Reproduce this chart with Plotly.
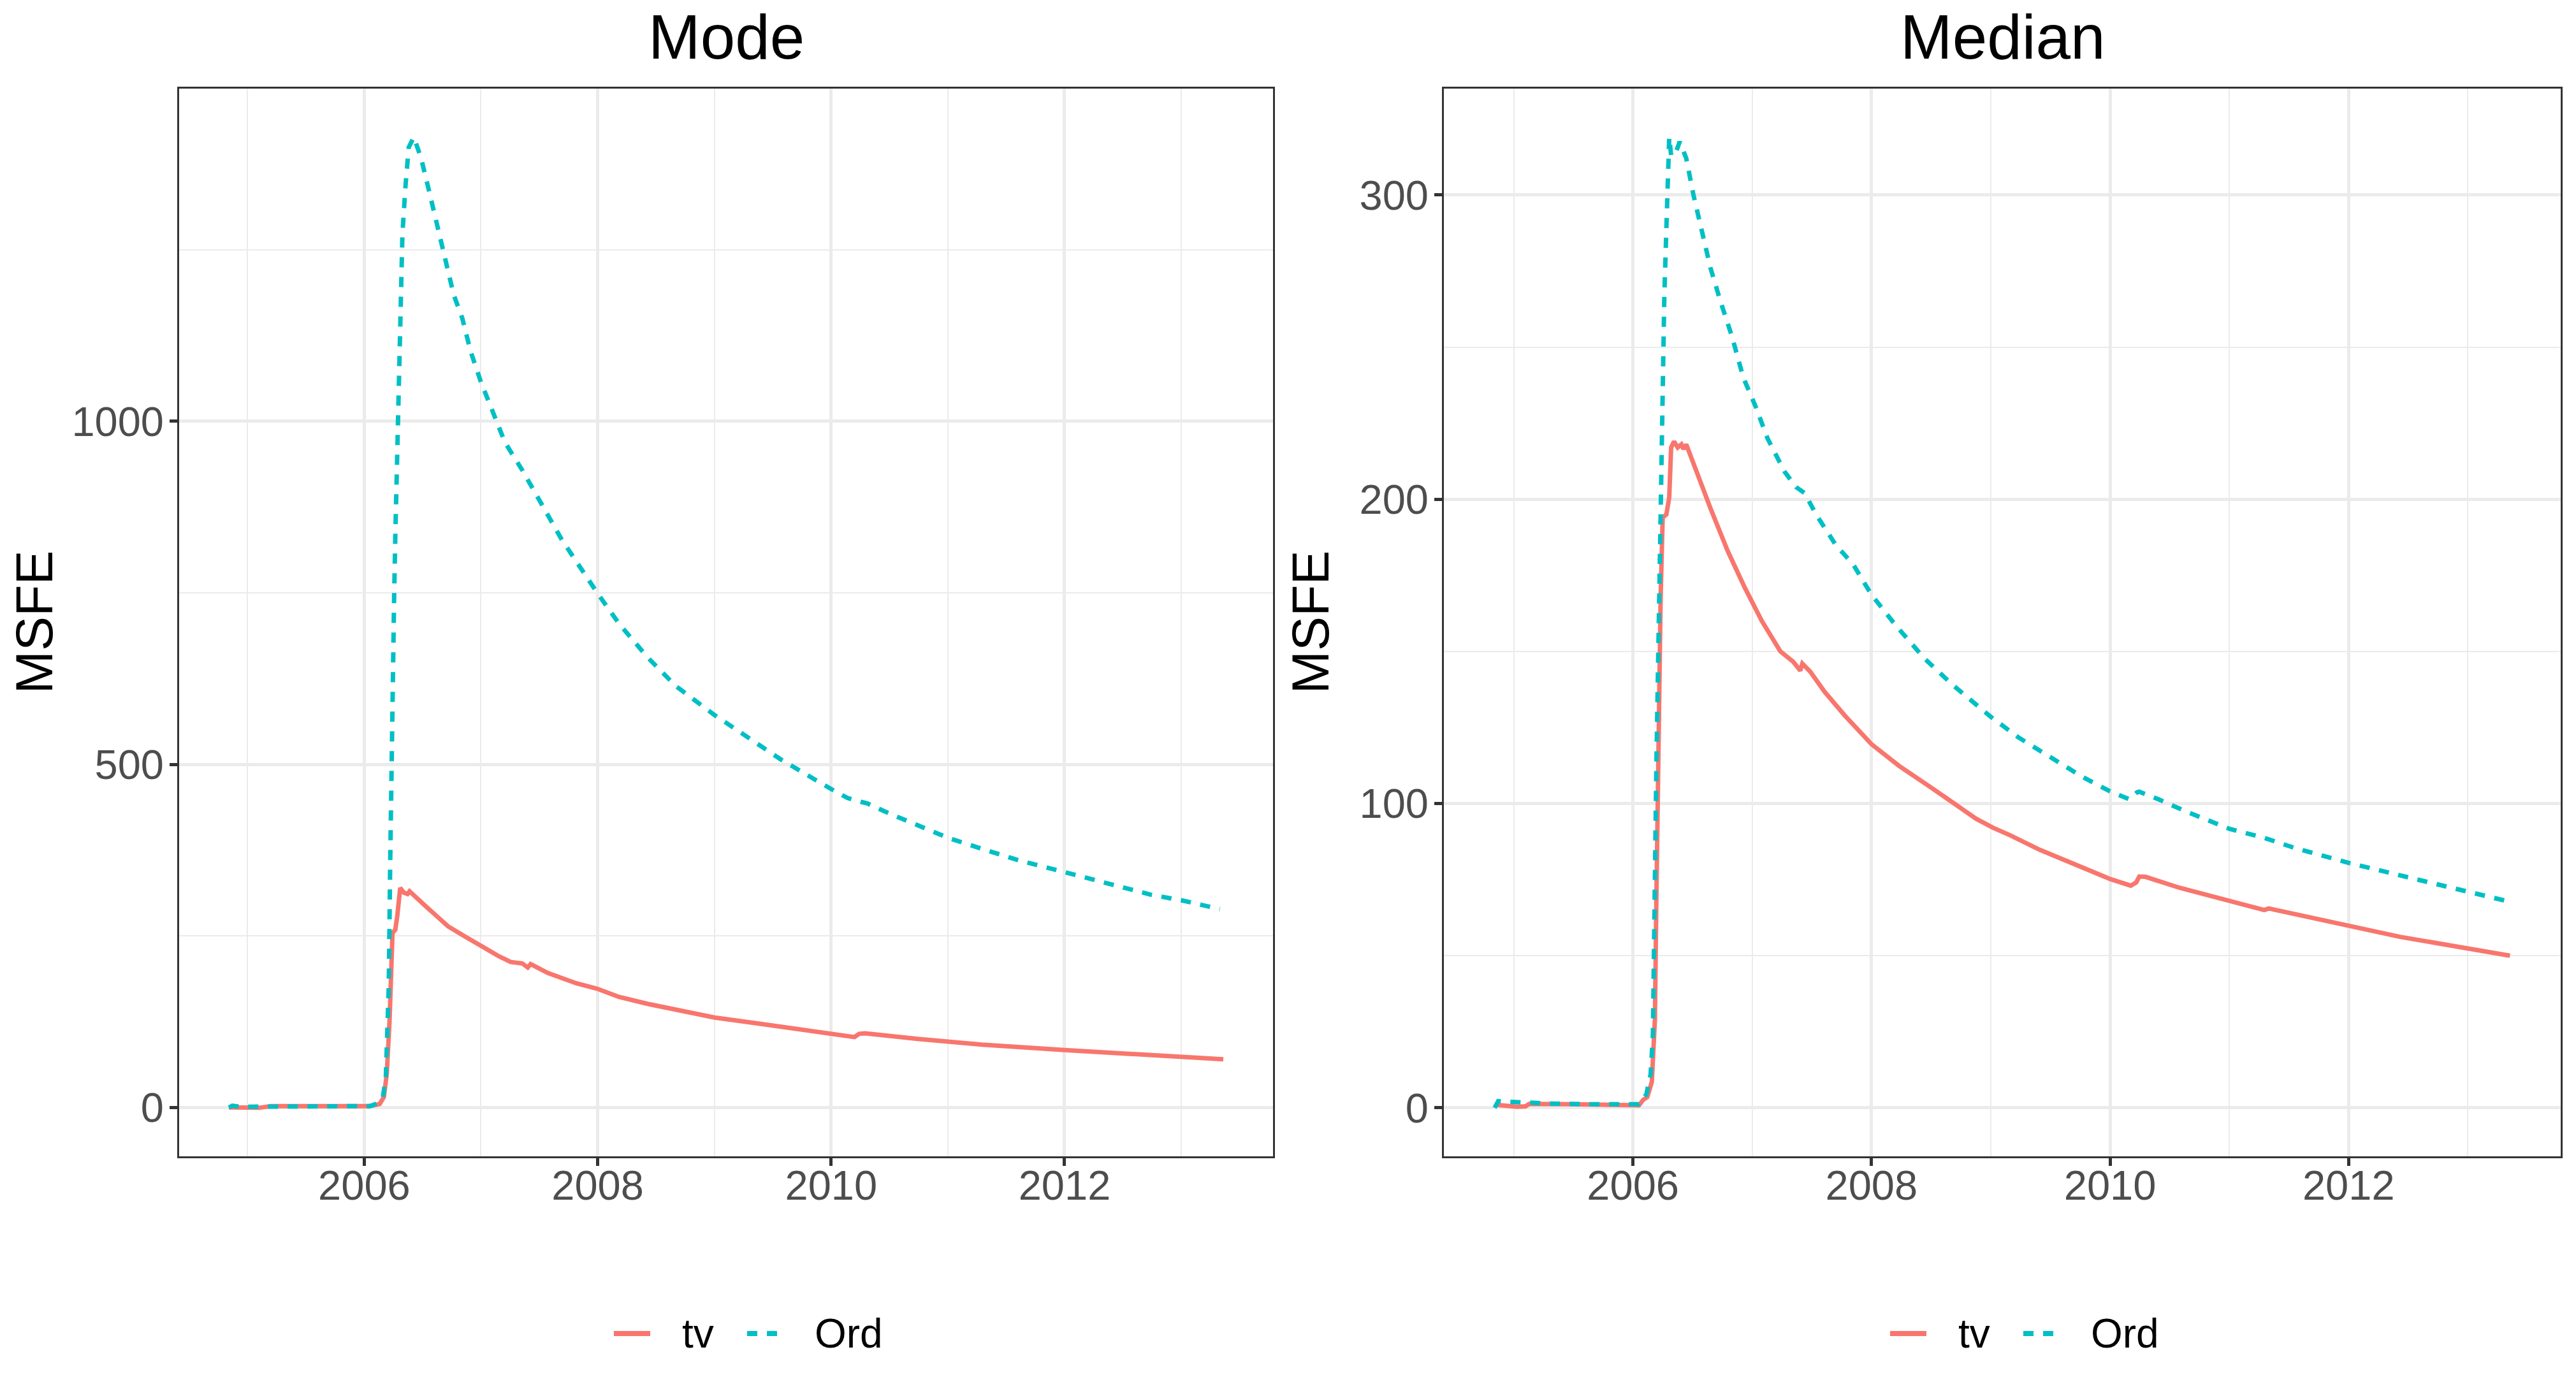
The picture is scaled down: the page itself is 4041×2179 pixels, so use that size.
import plotly.graph_objects as go

# decimal years and MSFE values
mode_tv_t = [2004.84, 2004.95, 2005.1, 2005.2, 2005.6, 2006.05, 2006.132, 2006.168,
             2006.193, 2006.217, 2006.242, 2006.266, 2006.283, 2006.298, 2006.308,
             2006.339, 2006.371, 2006.388, 2006.437, 2006.522, 2006.62, 2006.718,
             2006.864, 2007.0, 2007.157, 2007.255, 2007.353, 2007.401, 2007.426,
             2007.572, 2007.816, 2007.995, 2008.183, 2008.427, 2008.67, 2009.0,
             2009.35, 2010.0, 2010.2, 2010.24, 2010.29, 2010.74, 2011.29, 2012.0,
             2012.74, 2013.0, 2013.36]
mode_tv = [0, 0, -0.5, 2, 2, 2, 5, 15,
           49, 127, 254, 259, 279, 313, 320,
           313, 311, 315, 308, 294, 279, 264,
           249, 235, 220, 212, 210, 204, 209,
           196, 181, 173, 161, 151, 142, 131,
           123, 108, 102.6, 107.3, 108, 100, 91.6, 83.6,
           76, 73.6, 70.3]

mode_ord_t = [2004.84, 2004.87, 2004.93, 2005.0, 2005.2, 2005.5, 2005.8, 2006.05,
              2006.11, 2006.16, 2006.185, 2006.198, 2006.21, 2006.222, 2006.232,
              2006.245, 2006.256, 2006.266, 2006.278, 2006.291, 2006.303, 2006.327,
              2006.352, 2006.381, 2006.425, 2006.486, 2006.535, 2006.608, 2006.693,
              2006.767, 2006.84, 2006.913, 2007.0, 2007.108, 2007.206, 2007.353,
              2007.45, 2007.694, 2008.0, 2008.183, 2008.427, 2008.67, 2009.0,
              2009.21, 2009.57, 2010.0, 2010.14, 2010.24, 2010.31, 2010.49, 2010.74,
              2011.0, 2011.29, 2011.59, 2012.0, 2012.37, 2012.74, 2013.0, 2013.33]
mode_ord = [0, 2.5, 1, 1, 2, 2, 2, 2,
            5.6, 15, 45, 100, 176, 352, 499,
            597, 744, 832, 920, 1037, 1135, 1272,
            1340, 1399, 1414, 1384, 1350, 1296, 1238,
            1184, 1150, 1101, 1057, 1013, 969, 929,
            900, 827, 749, 705, 656, 614, 572,
            548, 507, 464, 451, 446, 443, 429, 411,
            393, 377, 361, 343, 327, 310, 302, 289]

median_tv_t = [2004.84, 2004.9, 2005.03, 2005.1, 2005.13, 2005.5, 2006.05, 2006.086,
               2006.12, 2006.158, 2006.184, 2006.196, 2006.215, 2006.232, 2006.249,
               2006.28, 2006.304, 2006.32, 2006.344, 2006.375, 2006.406, 2006.423,
               2006.447, 2006.507, 2006.65, 2006.794, 2006.937, 2007.08, 2007.236,
               2007.343, 2007.403, 2007.42, 2007.487, 2007.607, 2007.774, 2008.0,
               2008.23, 2008.487, 2008.7, 2008.877, 2009.02, 2009.16, 2009.41,
               2009.695, 2010.0, 2010.174, 2010.22, 2010.245, 2010.298, 2010.583,
               2011.0, 2011.293, 2011.33, 2011.65, 2012.0, 2012.43, 2012.785,
               2013.0, 2013.353]
median_tv = [1.0, 0.8, 0.35, 0.5, 1.3, 1.2, 0.8, 2.6,
             3.5, 8.5, 29, 68, 123, 168, 194,
             195, 200.6, 217, 219, 217, 218, 216.5,
             218, 211.6, 197, 183, 171, 160, 150,
             146.6, 143.7, 146, 143.3, 136.7, 129, 119.5,
             112.4, 105.6, 99.8, 95, 92, 89.6, 84.8,
             80, 75.2, 73, 74.1, 76, 75.9, 72.3,
             68, 65, 65.5, 62.9, 59.7, 56.2, 53.8,
             52.4, 50]

median_ord_t = [2004.84, 2004.87, 2004.95, 2005.1, 2005.3, 2005.6, 2006.05, 2006.112,
                2006.148, 2006.167, 2006.179, 2006.196, 2006.215, 2006.225, 2006.237,
                2006.244, 2006.263, 2006.28, 2006.296, 2006.304, 2006.32, 2006.35,
                2006.392, 2006.447, 2006.507, 2006.567, 2006.65, 2006.734, 2006.83,
                2006.925, 2007.033, 2007.128, 2007.272, 2007.367, 2007.44, 2007.535,
                2007.70, 2007.846, 2008.0, 2008.2, 2008.443, 2008.68, 2009.0,
                2009.233, 2009.517, 2009.766, 2010.0, 2010.163, 2010.227, 2010.245,
                2010.405, 2010.654, 2011.0, 2011.293, 2011.54, 2012.0, 2012.43,
                2012.785, 2013.0, 2013.353]
median_ord = [0, 2.2, 2.0, 1.7, 1.4, 1.2, 1.2, 4.4,
              11, 24, 68, 112, 156, 179, 209,
              240, 267, 289, 313, 319, 313, 313,
              317.5, 312, 300, 290, 276, 265, 253.5,
              240, 230, 220, 209, 204, 202, 195,
              185, 178.6, 168.6, 158.7, 147.7, 139, 128.5,
              121.7, 114.7, 108.8, 104, 101.4, 103.7, 103.9,
              101.4, 97.1, 91.7, 88.7, 85.5, 80.5, 76.4,
              73, 71.2, 67.7]

TV_COLOR = "#F8766D"
ORD_COLOR = "#00BFC4"
DASH = "16px,15px"
FONT = "Liberation Sans, Arial, sans-serif"
W, H = 4041, 2179


def expand(values, mult=0.05):
    lo, hi = min(values), max(values)
    pad = (hi - lo) * mult
    return [lo - pad, hi + pad]


fig = go.Figure()

panels = [
    ("x", "y", mode_tv_t, mode_tv, mode_ord_t, mode_ord),
    ("x2", "y2", median_tv_t, median_tv, median_ord_t, median_ord),
]
for xa, ya, tv_t, tv, ord_t, ordv in panels:
    fig.add_trace(go.Scatter(x=tv_t, y=tv, name="tv", mode="lines",
                             line=dict(color=TV_COLOR, width=7),
                             xaxis=xa, yaxis=ya, showlegend=False))
    fig.add_trace(go.Scatter(x=ord_t, y=ordv, name="Ord", mode="lines",
                             line=dict(color=ORD_COLOR, width=7, dash=DASH),
                             xaxis=xa, yaxis=ya, showlegend=False))

axis_common = dict(
    showgrid=True, gridcolor="#EBEBEB", gridwidth=4.5,
    zeroline=False, showline=True, mirror=True, linecolor="#333333", linewidth=3,
    ticks="outside", ticklen=12, tickwidth=4.5, tickcolor="#333333",
    tickfont=dict(family=FONT, size=65, color="#4D4D4D"),
)
minor_grid = dict(showgrid=True, gridcolor="#EBEBEB", gridwidth=2.2)

fig.update_layout(
    width=W, height=H, autosize=False,
    margin=dict(l=0, r=0, t=0, b=0),
    paper_bgcolor="white", plot_bgcolor="white",
    font=dict(family=FONT, color="black"),
    showlegend=False,
    xaxis=dict(domain=[281 / W, 1997 / W], anchor="y",
               range=expand(mode_tv_t + mode_ord_t),
               tickmode="linear", tick0=2006, dtick=2, ticklabelstandoff=-25,
               minor=dict(dtick=1, tick0=2005, **minor_grid), **axis_common),
    yaxis=dict(domain=[365 / H, 2040 / H], anchor="x",
               range=expand(mode_tv + mode_ord),
               tickmode="linear", tick0=0, dtick=500, ticklabelstandoff=-4,
               minor=dict(dtick=250, tick0=0, **minor_grid), **axis_common),
    xaxis2=dict(domain=[2265 / W, 4017 / W], anchor="y2",
                range=expand(median_tv_t + median_ord_t),
                tickmode="linear", tick0=2006, dtick=2, ticklabelstandoff=-25,
                minor=dict(dtick=1, tick0=2005, **minor_grid), **axis_common),
    yaxis2=dict(domain=[365 / H, 2040 / H], anchor="x2",
                range=expand(median_tv + median_ord),
                tickmode="linear", tick0=0, dtick=100, ticklabelstandoff=-4,
                minor=dict(dtick=50, tick0=0, **minor_grid), **axis_common),
)

# panel titles and y-axis titles
for cx, title in [((281 + 1997) / 2, "Mode"), ((2265 + 4017) / 2, "Median")]:
    fig.add_annotation(text=title, x=cx / W, y=1 - 58 / H, xref="paper", yref="paper",
                       xanchor="center", yanchor="middle", showarrow=False,
                       font=dict(family=FONT, size=98, color="black"))
for cx in [53, 2055]:
    fig.add_annotation(text="MSFE", x=cx / W, y=1 - 976.5 / H, xref="paper", yref="paper",
                       xanchor="center", yanchor="middle", showarrow=False, textangle=-90,
                       font=dict(family=FONT, size=81, color="black"))

# one legend under each panel, drawn as key lines plus labels
legend_y = 1 - 2092 / H
for off in [0, 2002]:
    fig.add_shape(type="line", xref="paper", yref="paper",
                  x0=(963 + off) / W, x1=(1020 + off) / W, y0=legend_y, y1=legend_y,
                  line=dict(color=TV_COLOR, width=8))
    fig.add_shape(type="line", xref="paper", yref="paper",
                  x0=(1172 + off) / W, x1=(1220 + off) / W, y0=legend_y, y1=legend_y,
                  line=dict(color=ORD_COLOR, width=8, dash=DASH))
    for lx, label in [(1068, "tv"), (1276, "Ord")]:
        fig.add_annotation(text=label, x=(lx + off) / W, y=legend_y,
                           xref="paper", yref="paper", xanchor="left", yanchor="middle",
                           showarrow=False, font=dict(family=FONT, size=64, color="black"))

fig.write_html("out.html", config={"displayModeBar": False},
               post_script="document.body.style.margin='0';")
